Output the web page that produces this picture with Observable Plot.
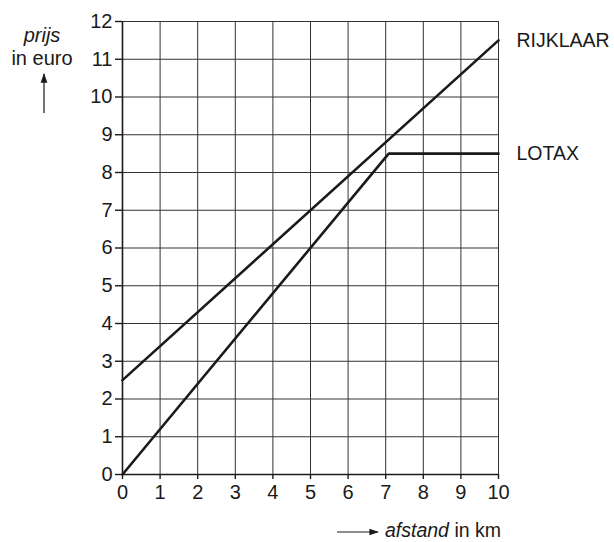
<!DOCTYPE html>
<html>
<head>
<meta charset="utf-8">
<script src="https://cdn.jsdelivr.net/npm/d3@7"></script>
<script src="https://cdn.jsdelivr.net/npm/@observablehq/plot@0.6"></script>
<style>
body { margin: 0; background: #fff; }
svg { font-family: "Liberation Sans", Arial, sans-serif; }
</style>
</head>
<body>
<div id="chart"></div>
<script>
const xTicks = [0, 1, 2, 3, 4, 5, 6, 7, 8, 9, 10];
const yTicks = [0, 1, 2, 3, 4, 5, 6, 7, 8, 9, 10, 11, 12];
const rijklaarX = [0, 10];
const rijklaarY = [2.5, 11.5];
const lotaxX = [0, 7.08, 10];
const lotaxY = [0, 8.5, 8.5];
const seriesNames = ["RIJKLAAR", "LOTAX"];

const data = [
  ...rijklaarX.map((x, i) => ({series: seriesNames[0], x, y: rijklaarY[i]})),
  ...lotaxX.map((x, i) => ({series: seriesNames[1], x, y: lotaxY[i]}))
];

const ink = "#1a1a1a";
const chart = Plot.plot({
  width: 614,
  height: 542,
  marginLeft: 122,
  marginRight: 116,
  marginTop: 21,
  marginBottom: 68,
  style: {fontFamily: "'Liberation Sans', Arial, sans-serif", fontSize: "20px", color: ink, background: "#fff"},
  x: {domain: [0, 10]},
  y: {domain: [0, 12]},
  marks: [
    Plot.gridX(xTicks, {stroke: "#333", strokeOpacity: 1, strokeWidth: 1}),
    Plot.gridY(yTicks, {stroke: "#333", strokeOpacity: 1, strokeWidth: 1}),
    Plot.ruleX([0], {stroke: ink, strokeWidth: 1.6}),
    Plot.ruleY([0], {stroke: ink, strokeWidth: 1.6}),
    Plot.axisX(xTicks, {tickSize: 5, tickPadding: 5, label: null, fontSize: 20, stroke: ink, strokeWidth: 1.4, fill: ink}),
    Plot.axisY(yTicks, {tickSize: 7, tickPadding: 3, label: null, fontSize: 20, stroke: ink, strokeWidth: 1.4, fill: ink}),
    Plot.line(data, {x: "x", y: "y", z: "series", stroke: ink, strokeWidth: 2.6}),
    Plot.text(data, Plot.selectLast({x: "x", y: "y", z: "series", text: "series", textAnchor: "start", dx: 18, dy: 0, fontSize: 19.5, fill: ink}))
  ]
});
document.getElementById("chart").appendChild(chart);

// axis titles with mixed italic text and arrows
const svg = d3.select(chart);
svg.append("defs").append("marker")
  .attr("id", "ah").attr("viewBox", "0 0 10 10").attr("refX", 9).attr("refY", 5)
  .attr("markerWidth", 8).attr("markerHeight", 8).attr("orient", "auto-start-reverse")
  .append("path").attr("d", "M0,1.5 L10,5 L0,8.5 Z").attr("fill", ink);

const yt = svg.append("g").attr("fill", ink).style("font-size", "20px").attr("text-anchor", "middle");
yt.append("text").attr("x", 42).attr("y", 42).attr("font-style", "italic").text("prijs");
yt.append("text").attr("x", 42).attr("y", 65).text("in euro");
svg.append("line").attr("x1", 44).attr("x2", 44).attr("y1", 113).attr("y2", 74)
  .attr("stroke", ink).attr("stroke-width", 1.2).attr("marker-end", "url(#ah)");

svg.append("line").attr("x1", 337).attr("x2", 378).attr("y1", 532).attr("y2", 532)
  .attr("stroke", ink).attr("stroke-width", 1.2).attr("marker-end", "url(#ah)");
const xt = svg.append("text").attr("x", 385).attr("y", 537).attr("fill", ink)
  .attr("text-anchor", "start").style("font-size", "19.5px");
xt.append("tspan").attr("font-style", "italic").text("afstand");
xt.append("tspan").text(" in km");
</script>
</body>
</html>
